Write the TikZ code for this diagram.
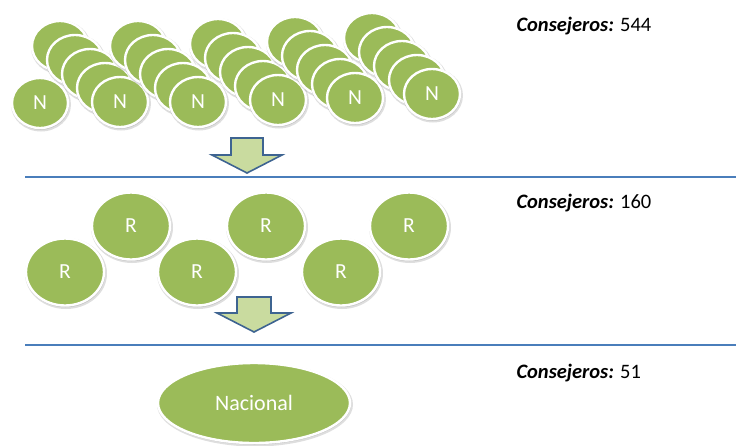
\documentclass[tikz,border=0pt]{standalone}
\usepackage{fontspec}
\setmainfont{Carlito}
\usetikzlibrary{shapes.geometric,calc}
\definecolor{leaf}{HTML}{9BBB59}
\definecolor{pale}{HTML}{C9DB9F}
\definecolor{slate}{HTML}{3E6491}
\definecolor{rule}{HTML}{4A7EBB}
\tikzset{
  disc/.style={ellipse, fill=leaf, draw=white, line width=2.4pt, inner sep=0pt,
    text=white, font=\fontsize{21.5}{21.5}\selectfont},
  smalldisc/.style={disc, minimum width=56pt, minimum height=50pt},
  bigdisc/.style={disc, minimum width=78pt, minimum height=67pt},
  shade/.style={ellipse, fill=black, opacity=0.13, draw=none, inner sep=0pt},
  count/.style={anchor=base west, font=\fontsize{20.5}{20.5}\selectfont},
  downarrow/.style={fill=pale, draw=slate, line width=1.6pt, line join=miter},
  divider/.style={draw=rule, line width=1.2pt}
}
% a disc with a soft grey halo underneath
\newcommand{\putdisc}[4]{%
  \node[shade, minimum width=#1+4pt, minimum height=#2+4pt] at ($(#3)+(1,1.5)$) {};
  \node[shade, minimum width=#1+1.5pt, minimum height=#2+1.5pt] at ($(#3)+(0.5,1)$) {};
  \node[#4] at (#3)}
\begin{document}
\begin{tikzpicture}[x=1pt,y=-1pt]
\useasboundingbox (0,0) rectangle (736,445);

% ---- local councils (N) ----
\putdisc{56pt}{50pt}{40,103}{smalldisc} (n0) {N};
\foreach \fx/\fy [count=\k] in {120/102, 198/102, 278/100, 355/98, 432/94}{
  \foreach \j in {4,3,2,1}{
    \putdisc{56pt}{50pt}{\fx-15*\j,\fy-14*\j}{smalldisc} (s\k b\j) {};
  }
  \putdisc{56pt}{50pt}{\fx,\fy}{smalldisc} (n\k) {N};
}

% ---- first step down ----
\coordinate (a1) at (247,138);
\path[downarrow] (a1) ++(-16,0) -- ++(32,0) -- ++(0,17) -- ++(19,0)
  -- ++(-35,18) coordinate (a1tip) -- ++(-35,-18) -- ++(19,0) -- cycle;

\coordinate (l1w) at (25,177);
\coordinate (l1e) at (736,177);
\draw[divider] (l1w) -- (l1e);

% ---- regional councils (R) ----
\putdisc{78pt}{67pt}{65,272}{bigdisc} (r1) {R};
\putdisc{78pt}{67pt}{131,226}{bigdisc} (r2) {R};
\putdisc{78pt}{67pt}{197,272}{bigdisc} (r3) {R};
\putdisc{78pt}{67pt}{266,226}{bigdisc} (r4) {R};
\putdisc{78pt}{67pt}{341,272}{bigdisc} (r5) {R};
\putdisc{78pt}{67pt}{409,226}{bigdisc} (r6) {R};

% ---- second step down ----
\coordinate (a2) at (254,297);
\path[downarrow] (a2) ++(-17,0) -- ++(34,0) -- ++(0,16) -- ++(20,0)
  -- ++(-37,19) coordinate (a2tip) -- ++(-37,-19) -- ++(20,0) -- cycle;

\coordinate (l2w) at (25,345);
\coordinate (l2e) at (736,345);
\draw[divider] (l2w) -- (l2e);

% ---- national council ----
\node[shade, ellipse, minimum width=196pt, minimum height=84pt] at (255,404.5) {};
\node[shade, ellipse, minimum width=193pt, minimum height=81pt] at (254.5,404) {};
\node[disc, minimum width=192pt, minimum height=80pt,
      font=\fontsize{22}{22}\selectfont] (nac) at (254,403) {Nacional};

% ---- counts ----
\node[count] (c1) at (513,31.7) {\textbf{\textit{Consejeros:}} 544};
\node[count] (c2) at (513,208) {\textbf{\textit{Consejeros:}} 160};
\node[count] (c3) at (513,378) {\textbf{\textit{Consejeros:}} 51};
\end{tikzpicture}
\end{document}
